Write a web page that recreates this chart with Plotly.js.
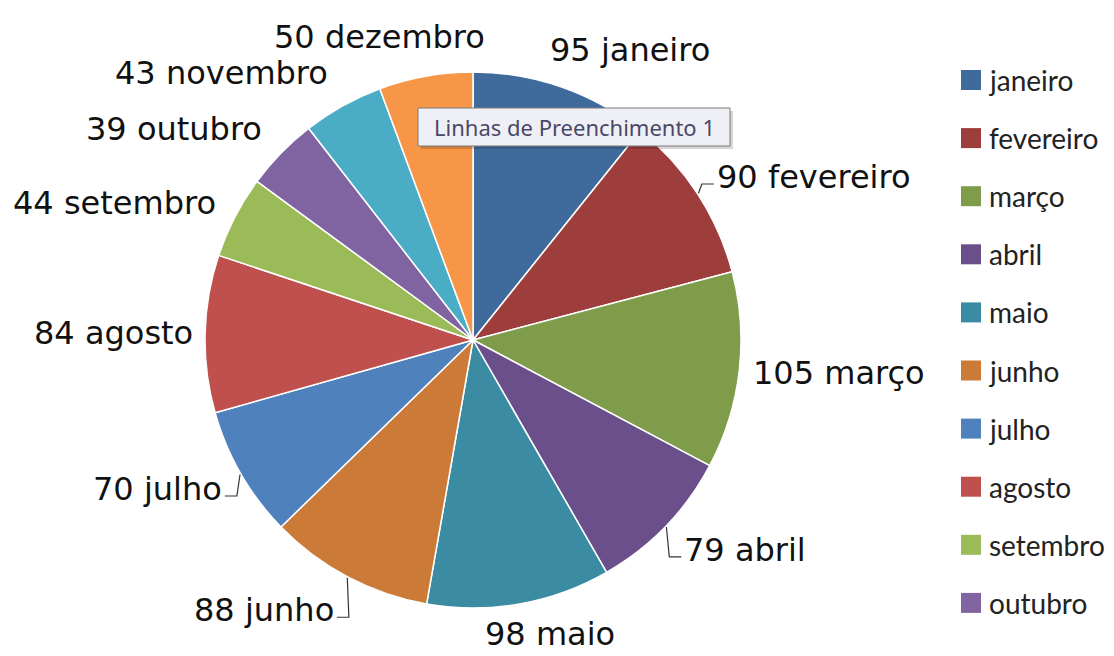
<!DOCTYPE html>
<html>
<head>
<meta charset="utf-8">
<script src="https://cdn.plot.ly/plotly-3.0.1.min.js"></script>
<style>html,body{margin:0;padding:0;background:#fff;}#chart{width:1114px;height:656px;}</style>
</head>
<body>
<div id="chart"></div>
<script>
// ---- data ----
const months = ['janeiro','fevereiro','março','abril','maio','junho','julho','agosto','setembro','outubro','novembro','dezembro'];
const values = [95, 90, 105, 79, 98, 88, 70, 84, 44, 39, 43, 50];
const sliceColors = ['#3F6A9C','#9E3E3C','#7E9C4A','#6A4F8A','#3B8CA3','#CC7A38','#4F81BD','#C0504D','#9BBB59','#8064A2','#4BACC6','#F79646'];
const tooltipText = 'Linhas de Preenchimento 1';

// ---- layout / style settings ----
const W = 1114, H = 656;
const cx = 473, cy = 340, R = 268;
const labelFont = {family: 'DejaVu Sans', size: 32, color: '#111'};
const legendFont = {family: 'Lato', size: 28, color: '#222'};
const leaderLabels = ['fevereiro', 'abril', 'junho', 'julho'];
const legendX = 961, legendY0 = 80, legendStep = 58.1, legendBox = 20;

const px = x => x / W;
const py = y => 1 - y / H;

const ctx = document.createElement('canvas').getContext('2d');
ctx.font = labelFont.size + 'px "' + labelFont.family + '"';

const total = values.reduce((a, b) => a + b, 0);
const annotations = [];
const shapes = [];

let cum = 0;
values.forEach((v, i) => {
  const mid = (cum + v / 2) / total * 2 * Math.PI;
  cum += v;
  const s = Math.sin(mid), c = Math.cos(mid);
  const text = v + ' ' + months[i];
  const w = ctx.measureText(text).width;
  const lr = 280 + 20 * Math.abs(c);
  const Px = cx + lr * s, Py = cy - lr * c;
  const f = Math.max(-1, Math.min(1, s * 2.2));
  const bx = Px + f * w / 2;
  const by = Math.min(Py - c * 8, H - 22);
  annotations.push({
    x: px(bx), y: py(by), xref: 'paper', yref: 'paper',
    xanchor: 'center', yanchor: 'middle', showarrow: false,
    text: text, font: labelFont
  });
  if (leaderLabels.includes(months[i])) {
    const Ex = cx + (R + 1) * s, Ey = cy - (R + 1) * c;
    const side = s > 0 ? 1 : -1;
    const Sx = bx - side * (w / 2 + 3), Sy = by + 7;
    const Bx = Sx - side * 12;
    shapes.push({
      type: 'path', xref: 'paper', yref: 'paper',
      path: 'M ' + px(Ex) + ' ' + py(Ey) + ' L ' + px(Bx) + ' ' + py(Sy) + ' L ' + px(Sx) + ' ' + py(Sy),
      line: {color: '#333', width: 1.2}
    });
  }
});

// legend (clipped by the chart area, like the reference)
months.forEach((m, i) => {
  const yc = legendY0 + i * legendStep;
  if (yc > H - 30) return;
  shapes.push({
    type: 'rect', xref: 'paper', yref: 'paper',
    x0: px(legendX), x1: px(legendX + legendBox),
    y0: py(yc - legendBox / 2), y1: py(yc + legendBox / 2),
    fillcolor: sliceColors[i], line: {width: 0}
  });
  annotations.push({
    x: px(legendX + legendBox + 6), y: py(yc), xref: 'paper', yref: 'paper',
    xanchor: 'left', yanchor: 'middle', showarrow: false,
    text: m, font: legendFont
  });
});

// tooltip box (shadow + box + text)
shapes.push({
  type: 'rect', xref: 'paper', yref: 'paper', layer: 'above',
  x0: px(421), x1: px(733), y0: py(111), y1: py(149),
  fillcolor: 'rgba(0,0,0,0.16)', line: {width: 0}
});
shapes.push({
  type: 'rect', xref: 'paper', yref: 'paper', layer: 'above',
  x0: px(418), x1: px(730), y0: py(108), y1: py(146),
  fillcolor: '#EFEFF6', line: {color: '#7a7a7a', width: 1}
});
annotations.push({
  x: px(574), y: py(127), xref: 'paper', yref: 'paper',
  xanchor: 'center', yanchor: 'middle', showarrow: false,
  text: tooltipText,
  font: {family: 'Noto Sans', size: 22, color: '#4a4866'}
});

const trace = {
  type: 'pie',
  labels: months,
  values: values,
  sort: false,
  direction: 'clockwise',
  rotation: 0,
  marker: {colors: sliceColors, line: {color: '#ffffff', width: 1.5}},
  textinfo: 'none',
  hoverinfo: 'none',
  showlegend: false,
  domain: {x: [px(cx - R), px(cx + R)], y: [py(cy + R), py(cy - R)]}
};

Plotly.newPlot('chart', [trace], {
  width: W, height: H,
  margin: {l: 0, r: 0, t: 0, b: 0},
  paper_bgcolor: '#ffffff',
  showlegend: false,
  annotations: annotations,
  shapes: shapes
}, {displayModeBar: false, staticPlot: true});
</script>
</body>
</html>
